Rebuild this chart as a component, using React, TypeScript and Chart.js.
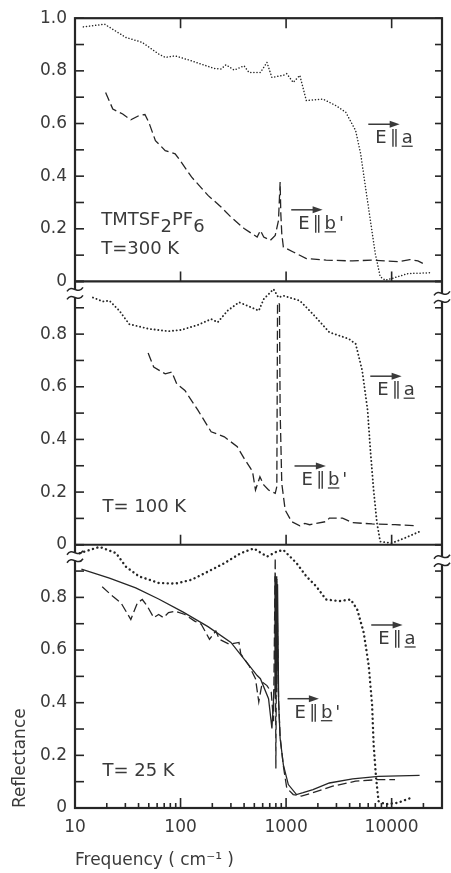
import React, { useEffect, useRef } from 'react';
import { Chart, registerables } from 'chart.js';

Chart.register(...registerables);

const FONT = '"DejaVu Sans", "Liberation Sans", sans-serif';
const INK = '#262626';
const TEXT = '#3a3a3a';

// x axis (logarithmic, cm^-1)
const FREQ_MIN = 10;
const FREQ_MAX = 30000;
const PANEL_IDS = ['y1', 'y2', 'y3'];

// ---- Panel 1 : T = 300 K ----
const p1FreqA = [12, 19.1, 30.3, 43.4, 62, 71.6, 88.9, 127, 209, 242, 269, 322, 400, 445, 571, 659, 734, 942, 1014, 1169, 1349, 1556, 2228, 2965, 3675, 4560, 5090, 5650, 6290, 7000, 7800, 8700, 10000, 14300, 23650];
const p1ReflA = [0.967, 0.977, 0.927, 0.908, 0.864, 0.851, 0.857, 0.838, 0.809, 0.807, 0.823, 0.803, 0.819, 0.794, 0.794, 0.832, 0.775, 0.783, 0.789, 0.756, 0.783, 0.687, 0.693, 0.668, 0.643, 0.573, 0.485, 0.359, 0.232, 0.106, 0.018, 0.005, 0.011, 0.030, 0.033];
const p1FreqB = [19.5, 22.8, 28.3, 33.8, 40.4, 46, 50, 57.8, 71.6, 88.9, 98.9, 127, 182, 242, 300, 400, 532, 571, 614, 708, 789, 847, 878, 891, 910, 942, 1169, 1556, 2392, 4270, 6530, 8700, 11500, 14860, 17740, 21240];
const p1ReflB = [0.718, 0.655, 0.636, 0.614, 0.630, 0.634, 0.605, 0.535, 0.497, 0.485, 0.460, 0.397, 0.327, 0.283, 0.245, 0.201, 0.169, 0.194, 0.169, 0.156, 0.175, 0.232, 0.378, 0.258, 0.182, 0.131, 0.112, 0.087, 0.081, 0.078, 0.081, 0.078, 0.075, 0.083, 0.078, 0.062];

// ---- Panel 2 : T = 100 K ----
const p2FreqA = [14.8, 18.4, 21.2, 26.3, 32.6, 50, 76.9, 102, 146, 195, 225, 279, 358, 429, 551, 614, 760, 847, 942, 1349, 1797, 2570, 3930, 4560, 5260, 5920, 6290, 6750, 7260, 7800, 10000, 13250, 18400];
const p2ReflA = [0.939, 0.924, 0.927, 0.889, 0.838, 0.820, 0.811, 0.816, 0.835, 0.857, 0.845, 0.889, 0.921, 0.908, 0.889, 0.933, 0.971, 0.939, 0.946, 0.927, 0.876, 0.807, 0.782, 0.763, 0.662, 0.511, 0.359, 0.208, 0.082, 0.012, 0.006, 0.025, 0.050];
const p2FreqB = [49.3, 55.7, 71.6, 82.7, 92, 110, 146, 195, 260, 345, 400, 461, 481, 513, 565, 614, 682, 789, 817, 830, 865, 878, 910, 980, 1128, 1349, 1505, 1673, 2392, 2570, 3430, 4270, 6530, 10770, 17100];
const p2ReflB = [0.728, 0.675, 0.649, 0.656, 0.611, 0.586, 0.511, 0.429, 0.410, 0.372, 0.328, 0.290, 0.277, 0.208, 0.258, 0.227, 0.208, 0.195, 0.221, 0.921, 0.914, 0.511, 0.233, 0.132, 0.088, 0.072, 0.081, 0.076, 0.088, 0.101, 0.101, 0.084, 0.079, 0.076, 0.072];

// ---- Panel 3 : T = 25 K ----
const p3FreqA = [11.1, 17.1, 24.5, 30.3, 40.4, 62, 88.9, 127, 182, 260, 372, 495, 659, 817, 942, 1256, 1556, 1928, 2392, 3184, 4093, 4720, 5440, 6064, 6530, 6750, 7120, 7514, 8700, 11500, 15380];
const p3ReflA = [0.968, 0.992, 0.968, 0.917, 0.880, 0.855, 0.852, 0.867, 0.898, 0.930, 0.968, 0.986, 0.955, 0.974, 0.980, 0.930, 0.880, 0.842, 0.792, 0.786, 0.792, 0.754, 0.666, 0.541, 0.390, 0.240, 0.114, 0.026, 0.014, 0.020, 0.039];
const p3FreqB = [18.1, 22.8, 27.3, 33.8, 39, 43.4, 48.3, 55.7, 62, 69, 76.9, 88.9, 110, 136, 157, 188, 216, 233, 289, 358, 372, 445, 513, 551, 595, 659, 723, 760, 789, 800, 817, 847, 878, 942, 1014, 1169, 1395, 1797, 2762, 4560, 7514, 10770];
const p3ReflB = [0.840, 0.804, 0.779, 0.716, 0.779, 0.792, 0.767, 0.723, 0.735, 0.723, 0.742, 0.748, 0.735, 0.710, 0.698, 0.641, 0.672, 0.641, 0.622, 0.629, 0.585, 0.541, 0.491, 0.403, 0.478, 0.465, 0.440, 0.330, 0.950, 0.150, 0.870, 0.420, 0.270, 0.160, 0.076, 0.051, 0.045, 0.058, 0.083, 0.102, 0.108, 0.108];
const p3FreqFit = [11.5, 21.2, 37.6, 62, 106, 182, 300, 429, 532, 571, 682, 734, 770, 785, 795, 805, 815, 830, 850, 878, 942, 1050, 1256, 1449, 1797, 2570, 4270, 7514, 18400];
const p3ReflFit = [0.907, 0.873, 0.836, 0.794, 0.744, 0.689, 0.629, 0.550, 0.503, 0.491, 0.415, 0.302, 0.450, 0.880, 0.430, 0.880, 0.440, 0.850, 0.400, 0.265, 0.164, 0.089, 0.051, 0.058, 0.070, 0.095, 0.111, 0.120, 0.124];

// ---- Text labels (anchored at frequency / reflectance of each panel) ----
type Part = { t: string; sub?: boolean; u?: boolean };
type Label = { panel: string; f: number; r: number; arrow?: boolean; parts: Part[] };
const E_A: Part[] = [{ t: 'E' }, { t: '∥' }, { t: 'a', u: true }];
const E_B: Part[] = [{ t: 'E' }, { t: '∥' }, { t: 'b', u: true }, { t: "'" }];
const LABELS: Label[] = [
  { panel: 'y1', f: 17.7, r: 0.213, parts: [{ t: 'TMTSF' }, { t: '2', sub: true }, { t: 'PF' }, { t: '6', sub: true }] },
  { panel: 'y1', f: 17.7, r: 0.106, parts: [{ t: 'T=300 K' }] },
  { panel: 'y1', f: 7000, r: 0.525, arrow: true, parts: E_A },
  { panel: 'y1', f: 1303, r: 0.2, arrow: true, parts: E_B },
  { panel: 'y2', f: 18.2, r: 0.126, parts: [{ t: 'T= 100 K' }] },
  { panel: 'y2', f: 7310, r: 0.568, arrow: true, parts: E_A },
  { panel: 'y2', f: 1400, r: 0.227, arrow: true, parts: E_B },
  { panel: 'y3', f: 18.2, r: 0.122, parts: [{ t: 'T= 25 K' }] },
  { panel: 'y3', f: 7465, r: 0.623, arrow: true, parts: E_A },
  { panel: 'y3', f: 1202, r: 0.343, arrow: true, parts: E_B },
];

const pts = (fs: number[], rs: number[]) => fs.map((f, i) => ({ x: f, y: rs[i] }));

const dotted = (w: number, gap: number) => ({
  borderColor: INK,
  borderWidth: w,
  borderDash: [0.1, gap],
  borderCapStyle: 'round' as const,
  pointRadius: 0,
  tension: 0,
  fill: false,
});
const dashed = {
  borderColor: INK,
  borderWidth: 1.3,
  borderDash: [9, 4],
  pointRadius: 0,
  tension: 0,
  fill: false,
};
const solid = { borderColor: INK, borderWidth: 1.3, pointRadius: 0, tension: 0, fill: false };

const tickFont = { family: FONT, size: 17 };

const yAxis = (id: string, weight: number, showTop: boolean, title?: string) => ({
  type: 'linear',
  min: 0,
  max: 1,
  position: 'left',
  stack: 'panels',
  stackWeight: 1,
  weight,
  offset: false,
  grid: { display: false, drawTicks: false },
  border: { display: false },
  ticks: {
    stepSize: 0.1,
    autoSkip: false,
    padding: 8,
    color: TEXT,
    font: tickFont,
    callback: (v: number) => {
      const k = Math.round(v * 10);
      if (k % 2 !== 0) return '';
      if (k === 0) return '0';
      if (k === 10) return showTop ? '1.0' : '';
      return (k / 10).toFixed(1);
    },
  },
  title: title
    ? { display: true, text: title, align: 'start', color: TEXT, font: tickFont, padding: { top: 10, bottom: 0 } }
    : { display: false },
  afterFit: (s: any) => {
    s.width = 75;
  },
});

const framePlugin = {
  id: 'panelFrame',
  afterDatasetsDraw(chart: any) {
    const { ctx, chartArea } = chart;
    const xs = chart.scales.x;
    const panels = PANEL_IDS.map((id) => chart.scales[id]);
    const L = chartArea.left;
    const R = chartArea.right;
    const seg = (x1: number, y1: number, x2: number, y2: number) => {
      ctx.beginPath();
      ctx.moveTo(x1, y1);
      ctx.lineTo(x2, y2);
      ctx.stroke();
    };
    ctx.save();
    ctx.strokeStyle = INK;
    ctx.fillStyle = INK;
    ctx.setLineDash([]);
    ctx.lineCap = 'butt';

    // inward y ticks on both sides
    ctx.lineWidth = 1.6;
    panels.forEach((s: any) => {
      s.ticks.forEach((t: any) => {
        const y = s.getPixelForValue(t.value);
        seg(L, y, L + 9, y);
        seg(R - 7, y, R, y);
      });
    });

    // inward x ticks
    for (let e = 1; e <= 4; e++) {
      for (let m = 1; m <= 9; m++) {
        const v = m * Math.pow(10, e);
        if (v <= FREQ_MIN || v >= FREQ_MAX) continue;
        const x = xs.getPixelForValue(v);
        if (m === 1) {
          panels.forEach((s: any) => seg(x, s.bottom, x, s.bottom - 10));
          seg(x, panels[0].top, x, panels[0].top + 10);
        } else {
          seg(x, panels[2].bottom, x, panels[2].bottom - 5);
        }
      }
    }

    // frame and panel separators
    ctx.lineWidth = 2.2;
    ctx.strokeRect(L, chartArea.top, R - L, chartArea.bottom - chartArea.top);
    panels.slice(0, 2).forEach((s: any) => seg(L, s.bottom, R, s.bottom));

    // axis break marks
    const drawBreak = (x: number, y: number) => {
      ctx.fillStyle = '#fff';
      ctx.fillRect(x - 2.5, y - 4, 5, 8);
      ctx.strokeStyle = INK;
      ctx.lineWidth = 1.5;
      [-4, 4].forEach((d) => {
        ctx.beginPath();
        ctx.moveTo(x - 8, y + d + 2);
        ctx.bezierCurveTo(x - 3, y + d - 6, x + 3, y + d + 6, x + 8, y + d - 2);
        ctx.stroke();
      });
    };
    [1, 2].forEach((i) => {
      drawBreak(L, panels[i].top + 12);
      drawBreak(R, panels[i].top + 16);
    });

    // text labels
    ctx.fillStyle = TEXT;
    ctx.strokeStyle = TEXT;
    ctx.textAlign = 'left';
    ctx.textBaseline = 'alphabetic';
    ctx.font = `18px ${FONT}`;
    LABELS.forEach((lb) => {
      const s = chart.scales[lb.panel];
      const x0 = xs.getPixelForValue(lb.f);
      const y = s.getPixelForValue(lb.r);
      let x = x0;
      let arrowEnd = x0;
      lb.parts.forEach((p, i) => {
        const w = ctx.measureText(p.t).width;
        ctx.fillText(p.t, x, p.sub ? y + 7 : y);
        if (p.u) {
          ctx.lineWidth = 1.3;
          seg(x, y + 3, x + w, y + 3);
        }
        x += w + (lb.arrow ? 3 : 0);
        if (i === 1) arrowEnd = x - 2;
      });
      if (lb.arrow) {
        const ya = y - 19;
        ctx.lineWidth = 1.5;
        seg(x0 - 7, ya, arrowEnd - 8, ya);
        ctx.beginPath();
        ctx.moveTo(arrowEnd, ya);
        ctx.lineTo(arrowEnd - 10, ya - 3.5);
        ctx.lineTo(arrowEnd - 10, ya + 3.5);
        ctx.closePath();
        ctx.fill();
      }
    });
    ctx.restore();
  },
};

export default function App() {
  const ref = useRef<HTMLCanvasElement | null>(null);
  useEffect(() => {
    if (!ref.current) return;
    const chart = new Chart(ref.current, {
      type: 'line',
      data: {
        datasets: [
          { label: 'E∥a 300 K', data: pts(p1FreqA, p1ReflA), yAxisID: 'y1', ...dotted(1.5, 3) },
          { label: "E∥b' 300 K", data: pts(p1FreqB, p1ReflB), yAxisID: 'y1', ...dashed },
          { label: 'E∥a 100 K', data: pts(p2FreqA, p2ReflA), yAxisID: 'y2', ...dotted(1.9, 3.6) },
          { label: "E∥b' 100 K", data: pts(p2FreqB, p2ReflB), yAxisID: 'y2', ...dashed },
          { label: 'E∥a 25 K', data: pts(p3FreqA, p3ReflA), yAxisID: 'y3', ...dotted(2.4, 4.5) },
          { label: "E∥b' 25 K", data: pts(p3FreqB, p3ReflB), yAxisID: 'y3', ...dashed },
          { label: "E∥b' 25 K fit", data: pts(p3FreqFit, p3ReflFit), yAxisID: 'y3', ...solid },
        ],
      },
      options: {
        animation: false,
        responsive: false,
        devicePixelRatio: 1,
        parsing: true,
        layout: { padding: { top: 14, right: 3, left: 0, bottom: 0 } },
        plugins: { legend: { display: false }, tooltip: { enabled: false } },
        scales: {
          x: {
            type: 'logarithmic',
            min: FREQ_MIN,
            max: FREQ_MAX,
            grid: { display: false, drawTicks: false },
            border: { display: false },
            ticks: {
              autoSkip: false,
              maxRotation: 0,
              padding: 9,
              color: TEXT,
              font: tickFont,
              callback: (v: number) => {
                const l = Math.log10(v);
                return Math.abs(l - Math.round(l)) < 1e-9 ? String(Math.round(v)) : '';
              },
            },
            title: {
              display: true,
              text: 'Frequency ( cm⁻¹ )',
              align: 'start',
              color: TEXT,
              font: tickFont,
              padding: { top: 0, bottom: 2 },
            },
            afterFit: (s: any) => {
              s.height = 65;
            },
          },
          y1: yAxis('y1', 3, true),
          y2: yAxis('y2', 2, false),
          y3: yAxis('y3', 1, false, 'Reflectance'),
        } as any,
      },
      plugins: [framePlugin],
    } as any);
    return () => chart.destroy();
  }, []);

  return (
    <div style={{ position: 'absolute', left: 0, top: 0, width: 451, height: 873, background: '#fff' }}>
      <canvas ref={ref} width={451} height={873} style={{ width: 451, height: 873, display: 'block' }} role="img" aria-label="Reflectance of TMTSF2PF6 versus frequency at 300 K, 100 K and 25 K" />
    </div>
  );
}
